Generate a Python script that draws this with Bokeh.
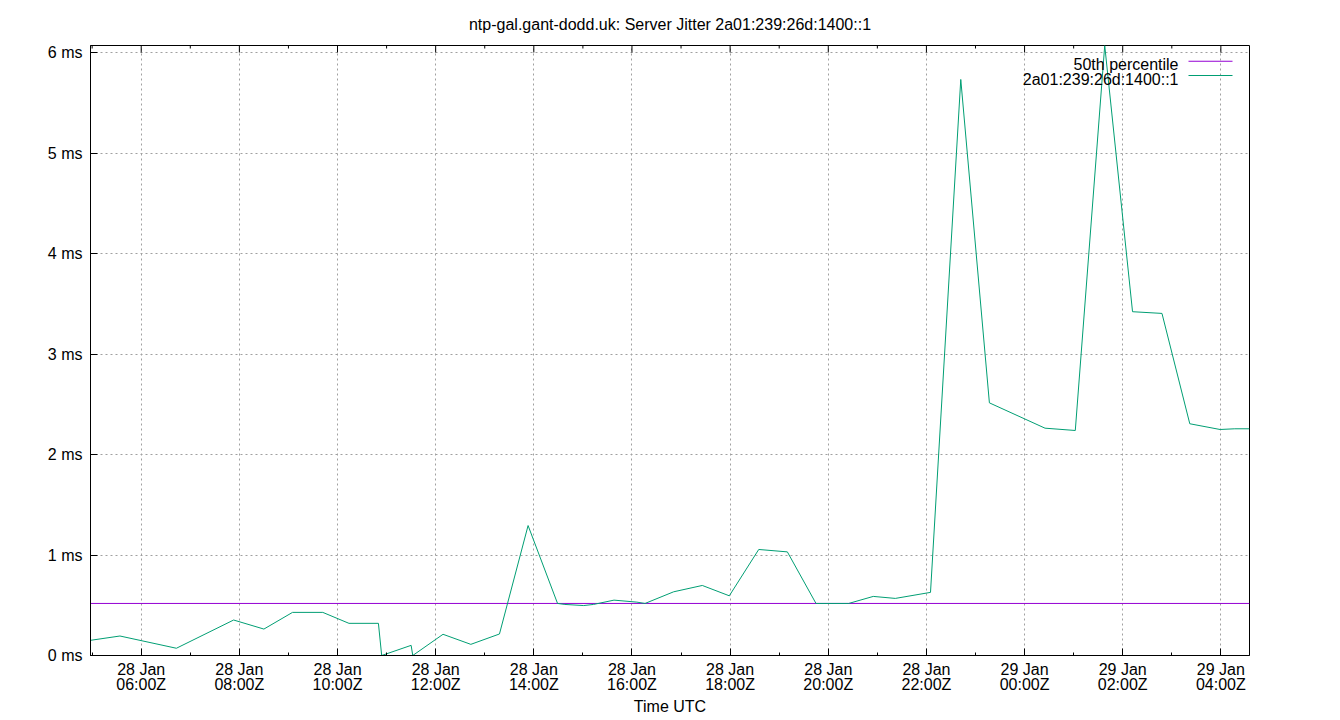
import pandas as pd
from bokeh.plotting import figure
from bokeh.models import (Range1d, FixedTicker, DatetimeTickFormatter, PrintfTickFormatter,
                          Label, BoxAnnotation)
from bokeh.embed import file_html
from bokeh.resources import INLINE

# ---------------- data ----------------
title_text = "ntp-gal.gant-dodd.uk: Server Jitter 2a01:239:26d:1400::1"
series_name = "2a01:239:26d:1400::1"
median_name = "50th percentile"
x_label = "Time UTC"

times = [
    "2024-01-28 04:58", "2024-01-28 05:34", "2024-01-28 06:43", "2024-01-28 07:53",
    "2024-01-28 08:30", "2024-01-28 09:05", "2024-01-28 09:42", "2024-01-28 10:14",
    "2024-01-28 10:50", "2024-01-28 10:54", "2024-01-28 11:30", "2024-01-28 11:32",
    "2024-01-28 12:09", "2024-01-28 12:43", "2024-01-28 13:18", "2024-01-28 13:53",
    "2024-01-28 14:29", "2024-01-28 14:38", "2024-01-28 15:01", "2024-01-28 15:13",
    "2024-01-28 15:38", "2024-01-28 16:06", "2024-01-28 16:16", "2024-01-28 16:51",
    "2024-01-28 17:26", "2024-01-28 17:59", "2024-01-28 18:35", "2024-01-28 19:10",
    "2024-01-28 19:45", "2024-01-28 20:25", "2024-01-28 20:55", "2024-01-28 21:22",
    "2024-01-28 22:05", "2024-01-28 22:42", "2024-01-28 23:17", "2024-01-29 00:25",
    "2024-01-29 01:02", "2024-01-29 01:38", "2024-01-29 02:12", "2024-01-29 02:48",
    "2024-01-29 03:22", "2024-01-29 03:59", "2024-01-29 04:17", "2024-01-29 04:35",
]
jitter_ms = [
    0.151, 0.194, 0.072, 0.353,
    0.263, 0.429, 0.429, 0.320,
    0.320, 0.0, 0.101, 0.0,
    0.211, 0.111, 0.214, 1.293,
    0.518, 0.508, 0.497, 0.508,
    0.551, 0.531, 0.518, 0.634,
    0.697, 0.594, 1.055, 1.031,
    0.518, 0.518, 0.588, 0.568,
    0.628, 5.732, 2.514, 2.262,
    2.239, 6.07, 3.421, 3.404,
    2.306, 2.249, 2.256, 2.256,
]
p50_ms = 0.518

y_max = 6.07
y_ticks = [0, 1, 2, 3, 4, 5, 6]
x_major_ticks = [
    "2024-01-28 06:00", "2024-01-28 08:00", "2024-01-28 10:00", "2024-01-28 12:00",
    "2024-01-28 14:00", "2024-01-28 16:00", "2024-01-28 18:00", "2024-01-28 20:00",
    "2024-01-28 22:00", "2024-01-29 00:00", "2024-01-29 02:00", "2024-01-29 04:00",
]
x_minor_ticks = [
    "2024-01-28 05:00", "2024-01-28 07:00", "2024-01-28 09:00", "2024-01-28 11:00",
    "2024-01-28 13:00", "2024-01-28 15:00", "2024-01-28 17:00", "2024-01-28 19:00",
    "2024-01-28 21:00", "2024-01-28 23:00", "2024-01-29 01:00", "2024-01-29 03:00",
]

# ---------------- helpers ----------------
def ms(s):
    return pd.Timestamp(s).value // 10**6

t = pd.to_datetime(times)
major_ms = [ms(s) for s in x_major_ticks]
minor_ms = [ms(s) for s in x_minor_ticks]

FONT = "Liberation Sans"
FS = "16px"
FRAME_H = 610
MAJOR_TICK = 7
MINOR_TICK = 3

p = figure(
    frame_width=1159, frame_height=FRAME_H,
    x_axis_type="datetime",
    x_range=Range1d(t[0], t[-1]),
    y_range=Range1d(0, y_max),
    output_backend="svg", toolbar_location=None,
    min_border_left=90, min_border_right=91, min_border_top=45, min_border_bottom=65,
    background_fill_color="white", border_fill_color="white",
)
p.outline_line_color = "black"
p.outline_line_width = 1

# title
p.title.text = title_text
p.title.align = "center"
p.title.text_font = FONT
p.title.text_font_size = FS
p.title.text_font_style = "normal"
p.title.text_color = "black"
p.title.standoff = 25

# x axis
xa = p.xaxis[0]
xa.ticker = FixedTicker(ticks=major_ms, minor_ticks=minor_ms)
fmt = "%d %b\n%H:%MZ"
xa.formatter = DatetimeTickFormatter(
    microseconds=fmt, milliseconds=fmt, seconds=fmt, minsec=fmt, minutes=fmt,
    hourmin=fmt, hours=fmt, days=fmt, months=fmt, years=fmt)
xa.major_tick_in = MAJOR_TICK
xa.major_tick_out = 0
xa.minor_tick_in = MINOR_TICK
xa.minor_tick_out = 0
xa.major_label_standoff = 5
xa.major_label_text_font = FONT
xa.major_label_text_font_size = FS
xa.major_label_text_color = "black"
xa.major_label_text_line_height = 0.9
xa.axis_label = x_label
xa.axis_label_text_font = FONT
xa.axis_label_text_font_size = FS
xa.axis_label_text_font_style = "normal"
xa.axis_label_text_color = "black"
xa.axis_label_standoff = 2
xa.axis_line_color = "black"

# y axis
ya = p.yaxis[0]
ya.ticker = FixedTicker(ticks=y_ticks)
ya.formatter = PrintfTickFormatter(format="%d ms")
ya.major_tick_in = MAJOR_TICK
ya.major_tick_out = 0
ya.minor_tick_in = 0
ya.minor_tick_out = 0
ya.major_label_standoff = 8
ya.major_label_text_font = FONT
ya.major_label_text_font_size = FS
ya.major_label_text_color = "black"
ya.axis_line_color = "black"

# grids
for g in (p.xgrid[0], p.ygrid[0]):
    g.grid_line_color = "#a0a0a0"
    g.grid_line_dash = "2 3"
    g.grid_line_width = 1

# mirrored ticks on the top border (gnuplot mirror tics)
px_to_y = y_max / FRAME_H
for tick_list, length in ((x_major_ticks, MAJOR_TICK), (x_minor_ticks, MINOR_TICK)):
    tx = pd.to_datetime(tick_list)
    p.segment(x0=tx, x1=tx, y0=[y_max] * len(tx), y1=[y_max - length * px_to_y] * len(tx),
              line_color="black", line_width=1)

# lines
r_med = p.line(x=[t[0], t[-1]], y=[p50_ms, p50_ms], line_color="#9400d3", line_width=1)
r_ser = p.line(x=t, y=jitter_ms, line_color="#009e73", line_width=1)

# key (gnuplot style: text on the left, sample on the right)
for txt, color, ty, sy in ((median_name, "#9400d3", 590.7, 594.3),
                           (series_name, "#009e73", 576.3, 580.0)):
    p.add_layout(Label(x=1088, y=ty, x_units="screen", y_units="screen", text=txt,
                       text_align="right", text_baseline="alphabetic",
                       text_font=FONT, text_font_size=FS, text_color="black"))
    p.add_layout(BoxAnnotation(left=1098, right=1142, bottom=sy - 0.5, top=sy + 0.5,
                               left_units="screen", right_units="screen",
                               bottom_units="screen", top_units="screen",
                               fill_color=color, fill_alpha=1, line_color=None))

open("out.html", "w").write(file_html(p, INLINE))
